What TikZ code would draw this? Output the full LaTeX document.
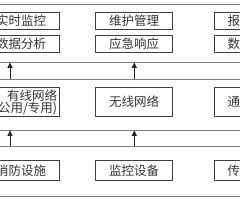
\documentclass[tikz,border=0pt]{standalone}
\usepackage{fontspec}
\newfontfamily\cjk{Noto Sans CJK SC}
\usetikzlibrary{arrows.meta}
\begin{document}
\begin{tikzpicture}[x=1pt,y=-1pt,
  layer/.style={draw=black!50, line width=0.8pt, inner sep=0pt, minimum width=360pt},
  txt/.style={font=\cjk\fontsize{12.5}{12}\selectfont, text=black!80},
  box/.style={txt, draw=black!75, line width=0.8pt, minimum width=77pt, inner sep=0pt},
  arr/.style={draw=black!85, line width=0.8pt, -{Triangle[length=5.5pt,width=5pt]}}
]
\useasboundingbox (0,0) rectangle (240,200);
% layers
\node[layer, minimum height=57.5pt] (L1) at (120,33.25) {};
\node[layer, minimum height=51pt] (L2) at (120,104.5) {};
\node[layer, minimum height=49.8pt] (L3) at (120,171.6) {};
% application layer
\node[box, minimum height=17pt] (a1) at (21,21) {实时监控};
\node[box, minimum height=17pt] (a2) at (134,21) {维护管理};
\node[box, minimum height=17pt] (a3) at (252.5,21) {报警管理};
\node[box, minimum height=16.5pt] (b1) at (21,43.7) {数据分析};
\node[box, minimum height=16.5pt] (b2) at (134,43.7) {应急响应};
\node[box, minimum height=16.5pt] (b3) at (252.5,43.7) {数据存储};
% network layer
\node[box, minimum height=29.4pt] (n1) at (21,102) {};
\node[txt, align=right, anchor=east, inner sep=0pt] (n1t) at ([xshift=-2.5pt]n1.east) {有线网络\\(公用/专用)};
\node[box, minimum height=29.4pt] (n2) at (134,102) {无线网络};
\node[box, minimum height=29.4pt] (n3) at (252.5,102) {通信网络};
% device layer
\node[box, minimum height=20.7pt] (d1) at (21,170.3) {消防设施};
\node[box, minimum height=20.7pt] (d2) at (134,170.3) {监控设备};
\node[box, minimum height=20.7pt] (d3) at (252.5,170.3) {传感设备};
% arrows
\coordinate (x1) at (10,0);
\coordinate (x2) at (134.3,0);
\draw[arr] (x1 |- L2.north) -- (x1 |- L1.south);
\draw[arr] (x2 |- L2.north) -- (x2 |- L1.south);
\draw[arr] (x1 |- L3.north) -- (x1 |- L2.south);
\draw[arr] (x2 |- L3.north) -- (x2 |- L2.south);
\end{tikzpicture}
\end{document}
